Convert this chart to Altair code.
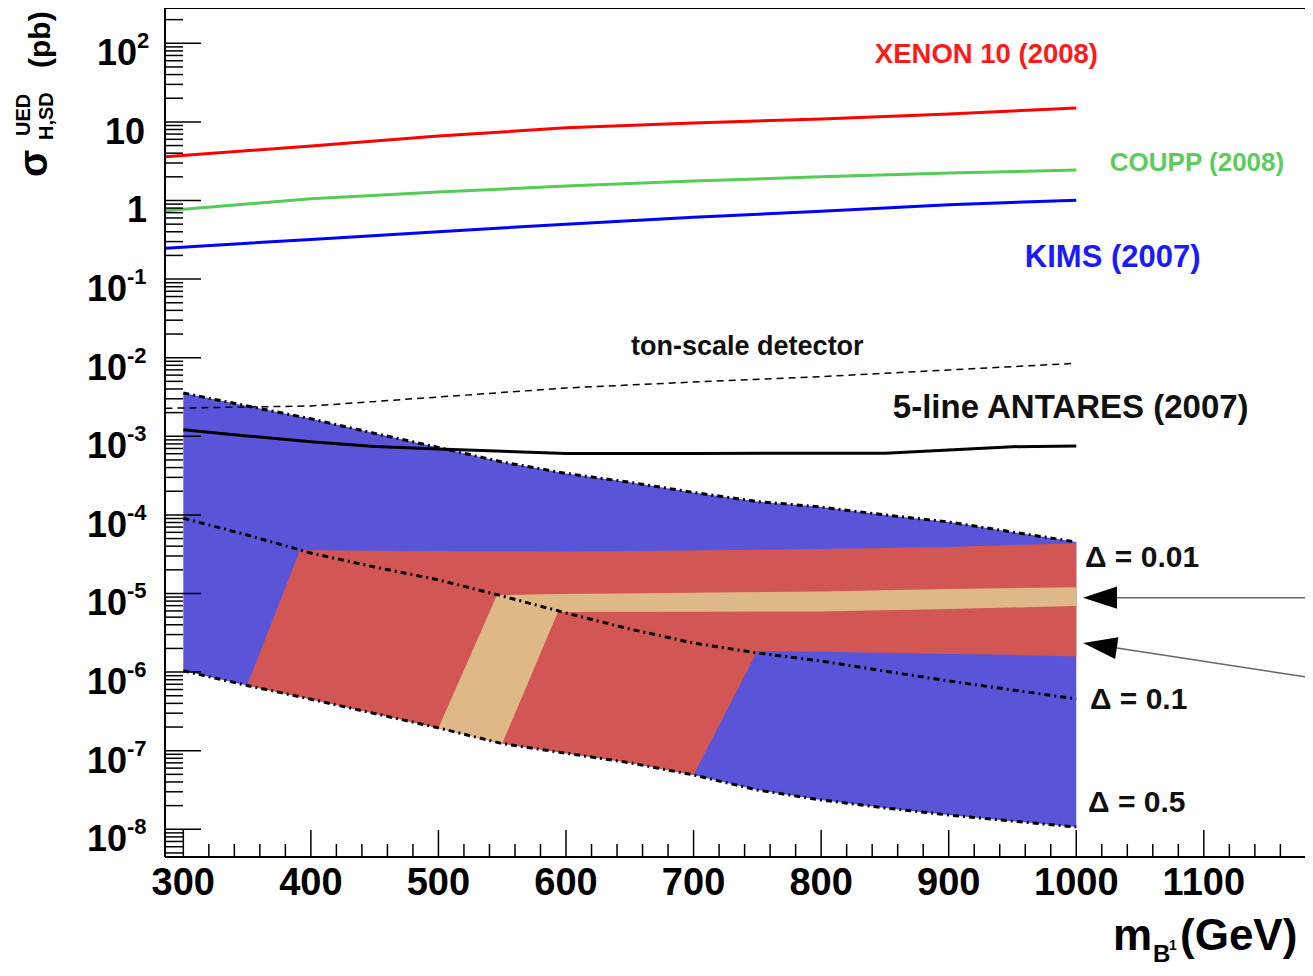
import altair as alt
import pandas as pd

# ---------------- data ----------------
X_MIN, X_MAX = 285.65, 1179.3
Y_MIN, Y_MAX = 4.44e-9, 281.2

xenon_x = [286, 400, 500, 600, 700, 800, 900, 1000]
xenon_y = [3.6, 4.93, 6.6, 8.4, 9.7, 10.9, 12.6, 15.0]
coupp_x = [286, 400, 500, 600, 700, 800, 900, 1000]
coupp_y = [0.74, 1.05, 1.28, 1.53, 1.77, 2.0, 2.24, 2.44]
kims_x = [286, 400, 500, 600, 700, 800, 900, 1000]
kims_y = [0.247, 0.32, 0.40, 0.50, 0.61, 0.73, 0.88, 1.01]

ton_x = [286, 300, 400, 500, 600, 700, 800, 900, 1000]
ton_y = [2.27e-3, 2.29e-3, 2.43e-3, 3.16e-3, 4.12e-3, 4.9e-3, 5.75e-3, 6.97e-3, 8.47e-3]

antares_x = [300, 350, 400, 450, 500, 600, 700, 800, 850, 900, 950, 1000]
antares_y = [1.21e-3, 1.01e-3, 8.53e-4, 7.41e-4, 6.89e-4, 6.04e-4, 6.04e-4, 6.1e-4,
             6.1e-4, 6.7e-4, 7.38e-4, 7.5e-4]

band_x = [300, 350, 400, 450, 500, 550, 600, 650, 700, 750, 800, 850, 900, 950, 1000]
delta001_y = [3.56e-3, 2.43e-3, 1.67e-3, 1.09e-3, 7.21e-4, 4.71e-4, 3.37e-4, 2.60e-4,
              1.93e-4, 1.48e-4, 1.26e-4, 9.98e-5, 8.13e-5, 6.05e-5, 4.52e-5]
delta01_y = [9.06e-5, 5.55e-5, 3.27e-5, 2.17e-5, 1.49e-5, 9.29e-6, 5.65e-6, 3.53e-6,
             2.34e-6, 1.75e-6, 1.38e-6, 1.03e-6, 7.71e-7, 5.92e-7, 4.55e-7]
delta05_y = [1.04e-6, 6.76e-7, 4.52e-7, 2.97e-7, 1.95e-7, 1.23e-7, 9.29e-8, 7.02e-8,
             4.91e-8, 3.16e-8, 2.36e-8, 1.87e-8, 1.52e-8, 1.27e-8, 1.07e-8]

red_x = [350, 391.5, 400, 450, 500, 550, 600, 650, 700, 750, 800, 850, 900, 950, 1000]
red_top = [6.76e-7, 3.57e-5, 3.55e-5, 3.5e-5, 3.47e-5, 3.45e-5, 3.42e-5, 3.47e-5,
           3.52e-5, 3.6e-5, 3.68e-5, 3.8e-5, 3.9e-5, 4.14e-5, 4.36e-5]
red_bot = [6.76e-7, 4.86e-7, 4.52e-7, 2.97e-7, 1.95e-7, 1.23e-7, 9.29e-8, 7.02e-8,
           4.91e-8, 1.86e-6, 1.82e-6, 1.76e-6, 1.7e-6, 1.66e-6, 1.58e-6]

tan_x = [500, 545.9, 550, 593.7, 700, 800, 900, 1000]
tan_top = [1.95e-7, 9.57e-6, 9.55e-6, 9.86e-6, 1.02e-5, 1.06e-5, 1.14e-5, 1.2e-5]
tan_bot = [1.95e-7, 1.27e-7, 1.23e-7, 5.82e-6, 5.86e-6, 5.90e-6, 6.35e-6, 6.93e-6]

labels_txt = ["XENON 10 (2008)", "COUPP (2008)", "KIMS (2007)", "ton-scale detector",
              "5-line ANTARES (2007)", "\u0394 = 0.01", "\u0394 = 0.1", "\u0394 = 0.5"]
labels_x = [842.1, 1026.3, 959.7, 651.0, 856.2, 1006.8, 1010.7, 1009.2]
labels_y = [71.0, 3.0, 0.185, 0.01367, 2.29e-3, 2.83e-5, 4.45e-7, 2.16e-8]
labels_color = ["#ff1a1a", "#5ccc5c", "#1a1aff", "#111111", "#111111", "#111111", "#111111", "#111111"]
labels_size = [27.5, 26, 31, 27, 33, 30, 30, 30]

arrow_tip_x = [1018.6, 1018.6]
arrow_tip_y = [8.85e-6, 2.18e-6]
arrow_angle = [0, 8.7]
arrow1_x = [1031.9, 1179.3]
arrow1_y = [8.85e-6, 8.85e-6]
arrow2_x = [1031.9, 1179.3]
arrow2_y = [2.02e-6, 8.7e-7]

x_major = [300, 400, 500, 600, 700, 800, 900, 1000, 1100]
decades = [-8, -7, -6, -5, -4, -3, -2, -1, 0, 1, 2]

# ---------------- layout ----------------
W, H = 1140, 849
FONT = "Liberation Sans"
xs = alt.Scale(domain=[X_MIN, X_MAX], nice=False, zero=False)
ys = alt.Scale(type="log", domain=[Y_MIN, Y_MAX], nice=False)


def X(f="x"):
    return alt.X(f"{f}:Q", scale=xs, axis=None)


def Y(f="y"):
    return alt.Y(f"{f}:Q", scale=ys, axis=None)


def line(xv, yv, color, width=3, dash=None):
    df = pd.DataFrame({"x": xv, "y": yv})
    kw = dict(color=color, strokeWidth=width)
    if dash:
        kw["strokeDash"] = dash
    return alt.Chart(df).mark_line(**kw).encode(x=X(), y=Y())


def area(xv, top, bot, color):
    df = pd.DataFrame({"x": xv, "top": top, "bot": bot})
    return alt.Chart(df).mark_area(color=color, opacity=1).encode(
        x=X(), y=Y("top"), y2=alt.Y2("bot:Q"))


layers = []
layers.append(area(band_x, delta001_y, delta05_y, "#5a55d8"))
layers.append(area(red_x, red_top, red_bot, "#d25654"))
layers.append(area(tan_x, tan_top, tan_bot, "#deb887"))
DD = [6, 4, 2, 4]
layers.append(line(band_x, delta001_y, "black", 3, DD))
layers.append(line(band_x, delta01_y, "black", 3, DD))
layers.append(line(band_x, delta05_y, "black", 3, DD))
layers.append(line(ton_x, ton_y, "black", 1.5, [7, 5]))
layers.append(line(antares_x, antares_y, "black", 3))
layers.append(line(xenon_x, xenon_y, "#ff0000", 3))
layers.append(line(coupp_x, coupp_y, "#55cc55", 3))
layers.append(line(kims_x, kims_y, "#0000ff", 3))

# annotations
ann = pd.DataFrame({"x": labels_x, "y": labels_y, "t": labels_txt,
                    "c": labels_color, "s": labels_size})
layers.append(alt.Chart(ann).mark_text(align="left", baseline="middle", font=FONT,
                                       fontWeight="bold").encode(
    x=X(), y=Y(), text="t:N", color=alt.Color("c:N", scale=None),
    size=alt.Size("s:Q", scale=None)))

# arrows
layers.append(line(arrow1_x, arrow1_y, "#666666", 1.5))
layers.append(line(arrow2_x, arrow2_y, "#666666", 1.5))
arr = pd.DataFrame({"x": arrow_tip_x, "y": arrow_tip_y, "a": arrow_angle})
layers.append(alt.Chart(arr).mark_point(shape="M-1,0L1,-0.65L1,0.65Z", filled=True,
                                        color="black", opacity=1, size=1156).encode(
    x=X(), y=Y(), angle=alt.Angle("a:Q", scale=None)))

# frame
layers.append(alt.Chart().mark_rule(color="black", strokeWidth=2).encode(
    x=alt.value(0), y=alt.value(0), y2=alt.value(H)))
layers.append(alt.Chart().mark_rule(color="black", strokeWidth=2).encode(
    x=alt.value(0), x2=alt.value(W), y=alt.value(H)))
layers.append(alt.Chart().mark_rule(color="black", strokeWidth=2).encode(
    x=alt.value(0), x2=alt.value(W), y=alt.value(0)))

# y ticks
ymaj = [10.0 ** k for k in decades]
ymin_t = [m * 10.0 ** k for k in range(-9, 3) for m in range(2, 10)
          if Y_MIN <= m * 10.0 ** k <= Y_MAX]
layers.append(alt.Chart(pd.DataFrame({"y": ymaj})).mark_rule(color="black", strokeWidth=1.5)
              .encode(y=Y(), x=alt.value(0), x2=alt.value(36)))
layers.append(alt.Chart(pd.DataFrame({"y": ymin_t})).mark_rule(color="black", strokeWidth=1.5)
              .encode(y=Y(), x=alt.value(0), x2=alt.value(18)))

# x ticks
xmin_t = [v for v in range(300, 1180, 20) if v % 100 != 0]
layers.append(alt.Chart(pd.DataFrame({"x": x_major})).mark_rule(color="black", strokeWidth=1.5)
              .encode(x=X(), y=alt.value(H), y2=alt.value(H - 27)))
layers.append(alt.Chart(pd.DataFrame({"x": xmin_t})).mark_rule(color="black", strokeWidth=1.5)
              .encode(x=X(), y=alt.value(H), y2=alt.value(H - 13)))

# x tick labels
layers.append(alt.Chart(pd.DataFrame({"x": x_major, "t": [str(v) for v in x_major]}))
              .mark_text(align="center", baseline="alphabetic", font=FONT, fontWeight="bold",
                         fontSize=38, color="black")
              .encode(x=X(), y=alt.value(H + 38), text="t:N"))

# y tick labels: base "10" and exponent
base_rows, exp_rows = [], []
for k in decades:
    base = "1" if k == 0 else "10"
    if k == 0:
        bx = -18
    elif k == 1:
        bx = -20
    elif k == 2:
        bx = -28
    else:
        bx = -38
    base_rows.append({"y": 10.0 ** k, "t": base, "px": bx})
    if k not in (0, 1):
        exp_rows.append({"y": 10.0 ** k, "t": str(k), "px": bx})
layers.append(alt.Chart(pd.DataFrame(base_rows)).mark_text(
    align="right", baseline="alphabetic", dy=22, font=FONT, fontWeight="bold",
    fontSize=36, color="black").encode(
    y=Y(), x=alt.X("px:Q", scale=None), text="t:N"))
layers.append(alt.Chart(pd.DataFrame(exp_rows)).mark_text(
    align="left", baseline="alphabetic", dy=5, font=FONT, fontWeight="bold",
    fontSize=22, color="black").encode(
    y=Y(), x=alt.X("px:Q", scale=None), text="t:N"))


def txt(t, x, y, size, angle=0, align="left"):
    kw = dict(text=t, align=align, baseline="alphabetic", font=FONT, fontWeight="bold",
              fontSize=size, color="black")
    if angle:
        kw["angle"] = angle
    return alt.Chart().mark_text(**kw).encode(x=alt.value(x), y=alt.value(y))


# x axis title  m_{B^1} (GeV)
layers.append(txt("m", 948, 942, 44))
layers.append(txt("B", 988, 954, 24))
layers.append(txt("1", 1004, 942, 14))
layers.append(txt("(GeV)", 1015, 942, 44))

# y axis title  sigma^{UED}_{H,SD} (pb)
layers.append(txt("\u03c3", -118, 169, 40, 270))
layers.append(txt("UED", -135, 128, 20, 270))
layers.append(txt("H,SD", -112, 132, 20, 270))
layers.append(txt("(pb)", -115, 60, 30, 270))

chart = alt.layer(*layers).properties(
    width=W, height=H,
    padding={"left": 157, "top": 0, "right": 0, "bottom": 109},
    autosize=alt.AutoSizeParams(type="none"),
    background="white",
).configure_view(stroke=None)

chart.save("out.html", embed_options={"renderer": "svg", "actions": False})
